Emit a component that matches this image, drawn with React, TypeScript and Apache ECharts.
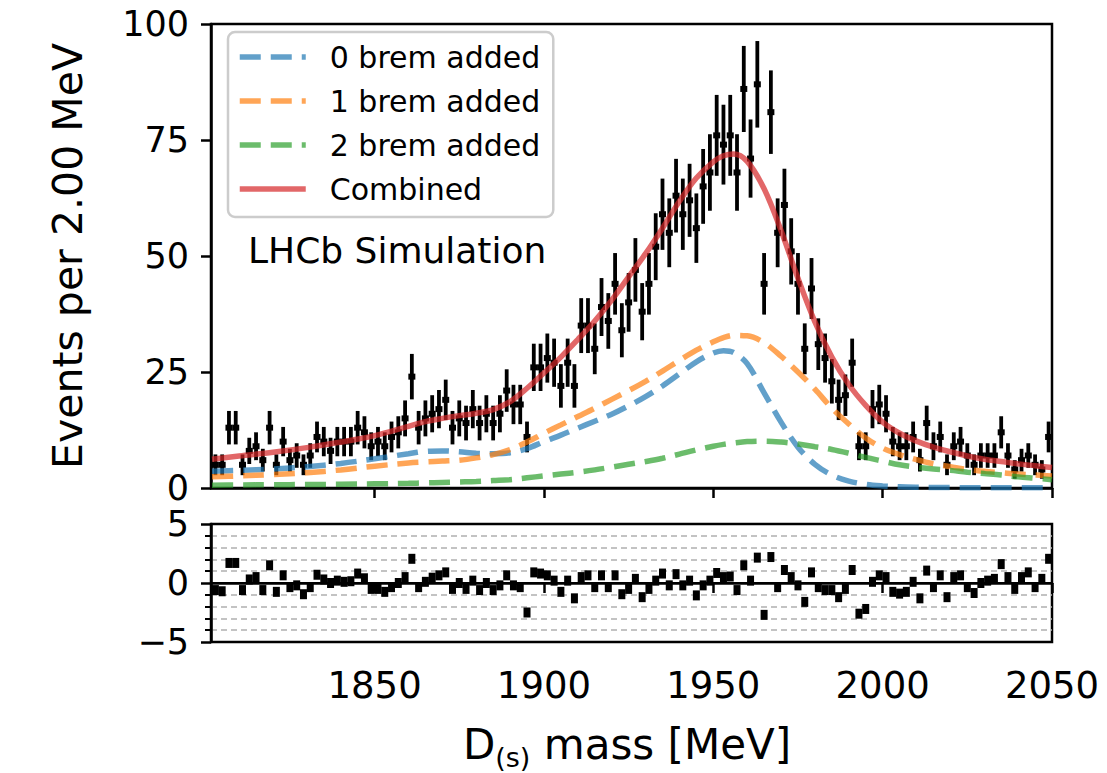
import React, { useEffect, useRef } from 'react';
import * as echarts from 'echarts';

// Observed counts per 2 MeV bin (first bin centre 1803 MeV, last 2049 MeV)
const counts = [
  5, 5, 13, 13, 5, 8, 9, 6, 13, 5,
  10, 6, 7, 5, 7, 11, 10, 8, 10, 10,
  10, 13, 12, 9, 10, 9, 11, 12, 15, 24,
  13, 15, 16, 17, 19, 13, 15, 14, 17, 14,
  16, 14, 16, 21, 18, 18, 11, 26, 26, 28,
  27, 22, 27, 22, 35, 35, 30, 39, 36, 44,
  34, 40, 47, 38, 44, 52, 59, 55, 63, 59,
  62, 56, 65, 68, 76, 74, 76, 68, 86, 71,
  87, 44, 81, 55, 61, 51, 44, 30, 43, 31,
  28, 23, 19, 20, 27, 9, 9, 17, 18, 16,
  10, 9, 9, 11, 6, 14, 9, 11, 5, 9,
  10, 7, 5, 7, 7, 7, 12, 7, 4, 6,
  7, 5, 4, 11,
];

// Pulls shown in the lower panel
const pulls = [
  -0.6, -0.7, 1.7, 1.7, -0.6, 0.3, 0.5, -0.6, 1.5, -0.75,
  0.65, -0.35, -0.2, -0.95, -0.35, 0.7, 0.3, 0.0, 0.2, 0.1,
  0.15, 0.8, 0.4, -0.5, -0.5, -0.75, -0.35, 0.0, 0.5, 2.05,
  -0.35, 0.1, 0.45, 0.65, 0.9, -0.5, 0.0, -0.5, 0.2, -0.6,
  0.0, -0.6, -0.2, 0.65, -0.2, -0.35, -2.5, 0.9, 0.8, 0.65,
  0.2, -0.75, 0.2, -1.3, 0.5, 0.65, -0.35, 0.65, -0.35, 0.65,
  -0.95, -0.5, 0.35, -1.2, -0.5, 0.2, 0.8, -0.2, 0.75, -0.2,
  0.2, -1.05, -0.2, 0.2, 0.85, 0.5, 0.55, -0.6, 1.5, 0.2,
  2.15, -2.7, 2.2, -0.35, 1.1, 0.5, -0.2, -1.6, 0.9, -0.35,
  -0.6, -0.6, -1.2, -0.5, 1.1, -2.6, -2.2, 0.1, 0.65, 0.5,
  -0.75, -0.9, -0.75, 0.1, -1.3, 1.05, -0.35, 0.65, -1.2, 0.5,
  0.65, -0.35, -0.85, 0.0, 0.2, 0.35, 1.6, 0.5, -0.5, 0.5,
  0.9, -0.35, 0.35, 2.05,
];

const firstBinCentre = 1803;
const binWidth = 2;
const massBins = counts.map((_, i) => firstBinCentre + binWidth * i);

// Fit curves sampled along the mass axis
const curveMass = [
  1802, 1810, 1820, 1830, 1840, 1850, 1860, 1865, 1870, 1875,
  1880, 1885, 1890, 1895, 1900, 1905, 1910, 1915, 1920, 1925,
  1930, 1935, 1940, 1945, 1950, 1953, 1956, 1960, 1965, 1970,
  1975, 1980, 1985, 1990, 1995, 2000, 2005, 2010, 2015, 2020,
  2025, 2030, 2035, 2040, 2045, 2050,
];
const brem0 = [
  3.6, 3.8, 4.1, 4.6, 5.3, 6.3, 7.4, 7.9, 8.0, 7.8,
  7.5, 7.4, 7.6, 8.5, 10.0, 11.4, 12.9, 14.4, 15.9, 17.7,
  19.7, 22.0, 24.6, 27.2, 29.1, 29.6, 29.2, 26.8, 20.5, 14.2,
  8.8, 5.1, 2.8, 1.5, 0.8, 0.45, 0.25, 0.15, 0.1, 0.08,
  0.06, 0.05, 0.04, 0.03, 0.03, 0.02,
];
const brem1 = [
  2.4, 2.6, 2.9, 3.3, 3.9, 4.7, 5.4, 5.6, 5.8, 6.0,
  6.5, 7.2, 8.3, 9.9, 11.8, 13.6, 15.4, 17.2, 19.1, 21.0,
  23.0, 25.2, 27.5, 29.7, 31.5, 32.4, 32.9, 32.8, 31.3, 28.4,
  25.0, 21.3, 17.2, 13.8, 10.8, 8.6, 7.2, 6.1, 5.2, 4.6,
  4.0, 3.6, 3.3, 3.0, 2.8, 2.6,
];
const brem2 = [
  0.6, 0.65, 0.7, 0.75, 0.8, 0.9, 1.0, 1.1, 1.2, 1.3,
  1.4, 1.6, 1.8, 2.2, 2.6, 3.0, 3.4, 3.9, 4.5, 5.1,
  5.7, 6.4, 7.3, 8.2, 9.0, 9.4, 9.7, 10.0, 10.1, 9.9,
  9.5, 8.9, 8.3, 7.5, 6.6, 5.8, 5.0, 4.5, 4.1, 3.8,
  3.4, 3.1, 2.8, 2.4, 2.1, 1.8,
];
const combined = [
  6.2, 6.9, 7.7, 8.7, 9.9, 11.3, 13.3, 14.3, 15.0, 15.6,
  16.1, 16.9, 18.6, 21.5, 24.8, 28.2, 32.0, 36.0, 40.5, 45.5,
  50.5, 56.0, 61.8, 66.8, 70.3, 71.6, 72.0, 70.4, 64.5, 55.5,
  45.2, 35.8, 28.2, 22.3, 17.8, 14.2, 11.8, 10.1, 8.8, 7.8,
  6.9, 6.2, 5.7, 5.2, 4.8, 4.4,
];

const massTicks = [1850, 1900, 1950, 2000, 2050];
const legendNames = ['0 brem added', '1 brem added', '2 brem added', 'Combined'];

const FONT = 'DejaVu Sans';

export default function App() {
  const ref = useRef<HTMLDivElement>(null);

  useEffect(() => {
    if (!ref.current) return;
    const chart = echarts.init(ref.current, undefined, { renderer: 'svg' });

    const L = 211, R = 1052, TOP = 24, MAINH = 464, RTOP = 524, RH = 118;
    const xMin = 1801.7, xMax = 2050;

    const curve = (vals: number[]) => curveMass.map((m, i) => [m, vals[i]]);
    const curveSeries = (name: string, vals: number[], color: string, dashed: boolean) => ({
      name,
      type: 'line',
      xAxisIndex: 0,
      yAxisIndex: 0,
      data: curve(vals),
      smooth: 0.35,
      symbol: 'none',
      showSymbol: false,
      z: 5,
      lineStyle: { color, width: 5.5, type: dashed ? [21, 10] : 'solid', cap: 'butt' },
      itemStyle: { color },
    });

    const option: any = {
      animation: false,
      textStyle: { fontFamily: FONT },
      grid: [
        { left: L, top: TOP, width: R - L, height: MAINH, show: true, borderColor: '#000', borderWidth: 2.5, backgroundColor: 'transparent' },
        { left: L, top: RTOP, width: R - L, height: RH, show: true, borderColor: '#000', borderWidth: 2.5, backgroundColor: 'transparent' },
      ],
      xAxis: [
        {
          type: 'value', gridIndex: 0, min: xMin, max: xMax,
          axisLine: { show: true, lineStyle: { color: '#000', width: 2.5 } },
          axisTick: { show: true, customValues: massTicks, length: 10, lineStyle: { color: '#000', width: 2.5 } },
          axisLabel: { show: false },
          splitLine: { show: false },
        },
        {
          type: 'value', gridIndex: 1, min: xMin, max: xMax,
          axisLine: { show: true, lineStyle: { color: '#000', width: 2.5 } },
          axisTick: { show: true, customValues: massTicks, length: 10, lineStyle: { color: '#000', width: 2.5 } },
          axisLabel: {
            show: true, customValues: massTicks, fontSize: 37, color: '#000', fontFamily: FONT, margin: 25,
            formatter: (v: number) => String(v),
          },
          splitLine: { show: false },
        },
      ],
      yAxis: [
        {
          type: 'value', gridIndex: 0, min: 0, max: 100, interval: 25,
          axisLine: { show: true, lineStyle: { color: '#000', width: 2.5 } },
          axisTick: { show: true, length: 10, lineStyle: { color: '#000', width: 2.5 } },
          axisLabel: { fontSize: 35, lineHeight: 28, color: '#000', fontFamily: FONT, margin: 22 },
          splitLine: { show: false },
        },
        {
          type: 'value', gridIndex: 1, min: -5, max: 5, interval: 5,
          axisLine: { show: true, lineStyle: { color: '#000', width: 2.5 } },
          axisTick: { show: true, length: 10, lineStyle: { color: '#000', width: 2.5 } },
          minorTick: { show: true, splitNumber: 5, length: 6, lineStyle: { color: '#000', width: 2 } },
          axisLabel: {
            fontSize: 35, lineHeight: 28, color: '#000', fontFamily: FONT, margin: 22,
            formatter: (v: number) => (v < 0 ? '\u2212' + Math.abs(v) : String(v)),
          },
          splitLine: { show: true, lineStyle: { color: '#000', width: 2 } },
          minorSplitLine: { show: true, lineStyle: { color: '#b0b0b0', width: 1.5, type: [6, 4] } },
        },
      ],
      legend: {
        data: legendNames,
        orient: 'vertical',
        left: 228,
        top: 32,
        padding: [8, 13, 11, 9],
        itemWidth: 66,
        itemHeight: 14,
        itemGap: 10,
        backgroundColor: 'rgba(255,255,255,0.8)',
        borderColor: '#cccccc',
        borderWidth: 2.5,
        borderRadius: 7,
        itemStyle: { opacity: 0 },
        lineStyle: { width: 5.5 },
        textStyle: { fontSize: 30, color: '#000', fontFamily: FONT, lineHeight: 34, padding: [0, 0, 0, 19] },
      },
      graphic: [
        {
          type: 'text', left: 248, top: 232, z: 10,
          style: { text: 'LHCb Simulation', fontSize: 36, fontFamily: FONT, fill: '#000' },
        },
        {
          type: 'text', x: 68, y: 256, rotation: Math.PI / 2, z: 10,
          style: { text: 'Events per 2.00 MeV', fontSize: 41, fontFamily: FONT, fill: '#000', align: 'center', verticalAlign: 'middle' },
        },
        {
          type: 'text', x: 627, y: 744, z: 10,
          style: {
            text: '{a|D}{s|(s)}{a| mass [MeV]}',
            align: 'center', verticalAlign: 'middle',
            rich: {
              a: { fontSize: 42, fontFamily: FONT, fill: '#000', lineHeight: 42, verticalAlign: 'bottom' },
              s: { fontSize: 27, fontFamily: FONT, fill: '#000', lineHeight: 22, verticalAlign: 'bottom', padding: [0, 0, -6, 0] },
            },
          },
        },
      ],
      series: [
        {
          name: 'data',
          type: 'custom',
          xAxisIndex: 0,
          yAxisIndex: 0,
          clip: true,
          z: 3,
          data: counts.map((c, i) => [massBins[i], c, Math.sqrt(c)]),
          renderItem: (params: any, api: any) => {
            const x = api.value(0), y = api.value(1), e = api.value(2);
            const top = api.coord([x, y + e]);
            const bot = api.coord([x, Math.max(0, y - e)]);
            const c = api.coord([x, y]);
            return {
              type: 'group',
              children: [
                { type: 'line', shape: { x1: top[0], y1: top[1], x2: bot[0], y2: bot[1] }, style: { stroke: '#000', lineWidth: 3.8 } },
                { type: 'rect', shape: { x: c[0] - 3.5, y: c[1] - 3, width: 7, height: 6 }, style: { fill: '#000' } },
              ],
            };
          },
        },
        curveSeries('0 brem added', brem0, 'rgba(31,119,180,0.7)', true),
        curveSeries('1 brem added', brem1, 'rgba(255,127,14,0.7)', true),
        curveSeries('2 brem added', brem2, 'rgba(44,160,44,0.7)', true),
        curveSeries('Combined', combined, 'rgba(214,39,40,0.7)', false),
        {
          name: 'pull',
          type: 'scatter',
          xAxisIndex: 1,
          yAxisIndex: 1,
          symbol: 'rect',
          symbolSize: [7, 10],
          itemStyle: { color: '#000', opacity: 1 },
          z: 4,
          data: pulls.map((p, i) => [massBins[i], p]),
        },
      ],
    };

    chart.setOption(option);
    return () => chart.dispose();
  }, []);

  return (
    <div
      ref={ref}
      style={{ position: 'fixed', left: 0, top: 0, width: 1107, height: 773, background: '#fff' }}
    />
  );
}
